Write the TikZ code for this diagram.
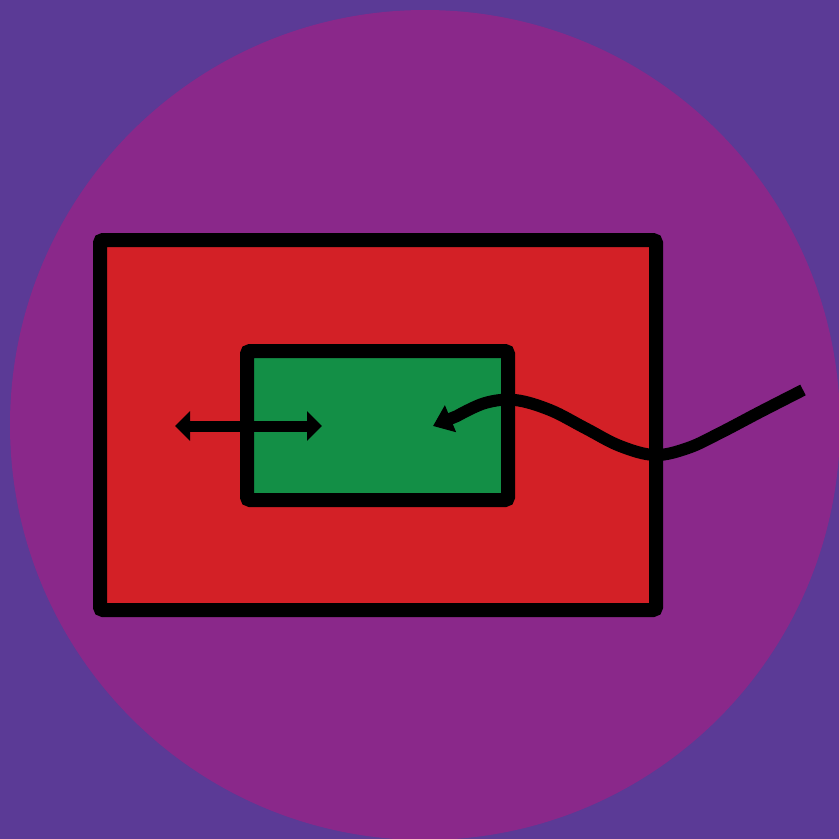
\documentclass[tikz,border=0pt]{standalone}
\usetikzlibrary{arrows.meta}
\definecolor{bgpurple}{HTML}{5B3A96}
\definecolor{circmag}{HTML}{8A288A}
\definecolor{boxred}{HTML}{D32026}
\definecolor{boxgreen}{HTML}{138F46}
\tikzset{
  box/.style={draw=black, line width=14pt, rounded corners=3pt},
  conn/.style={draw=black, line width=12pt},
  tip/.style={-{Triangle[length=19pt,width=28pt]}}
}
\begin{document}
\begin{tikzpicture}[x=1pt,y=-1pt]
\useasboundingbox (0,0) rectangle (839,839);
\fill[bgpurple] (0,0) rectangle (839,839);
\fill[circmag] (425,425) circle (415);
\path[box, fill=boxred] (100,240) rectangle (656,610);
\path[box, fill=boxgreen] (247,351) rectangle (508,500);
\coordinate (la) at (175,426);
\coordinate (lb) at (322,426);
\path[conn, line width=11pt, {Triangle[length=15pt,width=29pt]}-{Triangle[length=15pt,width=29pt]}] (la) -- (lb);
\coordinate (ws) at (803,390);
\coordinate (we) at (433,426);
\path[conn, tip] plot[smooth, tension=0.6] coordinates {(803,390) (760,412) (720,433) (688,448) (655,455) (620,446) (585,428) (550,410) (515,400) (485,403) (457,416)} -- (we);
\end{tikzpicture}
\end{document}
